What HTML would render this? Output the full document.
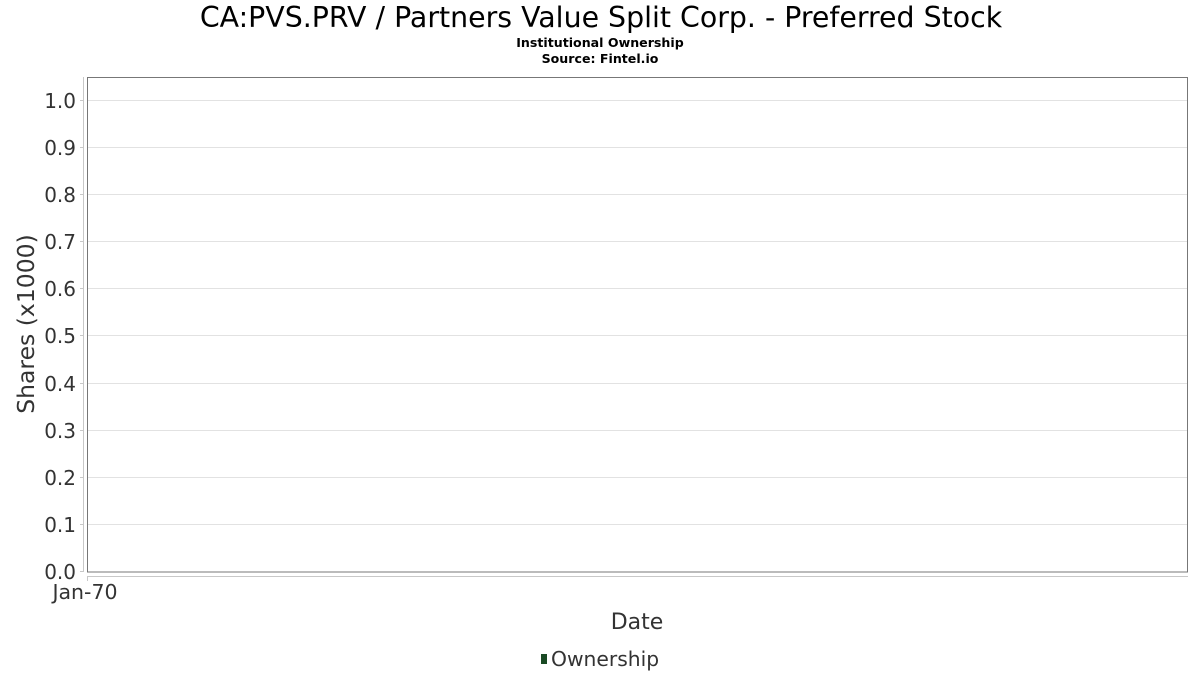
<!DOCTYPE html>
<html><head><meta charset="utf-8"><style>
html,body{margin:0;padding:0;background:#fff;}
svg{display:block;font-family:"DejaVu Sans","Liberation Sans",sans-serif;}
</style></head><body>
<svg width="1200" height="675" viewBox="0 0 1200 675" xmlns="http://www.w3.org/2000/svg">
<rect width="1200" height="675" fill="#fff"/>
<text x="601" y="27" font-size="28.4" text-anchor="middle" fill="#000">CA:PVS.PRV / Partners Value Split Corp. - Preferred Stock</text>
<text x="600" y="47" font-size="12.6" font-weight="bold" text-anchor="middle" fill="#000">Institutional Ownership</text>
<text x="600" y="63" font-size="12.6" font-weight="bold" text-anchor="middle" fill="#000">Source: Fintel.io</text>
<g stroke="#e2e2e2" stroke-width="1">
<line x1="88" x2="1188" y1="100.5" y2="100.5"/>
<line x1="88" x2="1188" y1="147.5" y2="147.5"/>
<line x1="88" x2="1188" y1="194.5" y2="194.5"/>
<line x1="88" x2="1188" y1="241.5" y2="241.5"/>
<line x1="88" x2="1188" y1="288.5" y2="288.5"/>
<line x1="88" x2="1188" y1="335.5" y2="335.5"/>
<line x1="88" x2="1188" y1="383.5" y2="383.5"/>
<line x1="88" x2="1188" y1="430.5" y2="430.5"/>
<line x1="88" x2="1188" y1="477.5" y2="477.5"/>
<line x1="88" x2="1188" y1="524.5" y2="524.5"/>
</g>
<rect x="87.5" y="77.5" width="1100" height="494.5" fill="none" stroke="#777" stroke-width="1"/>
<g stroke="#c8c8c8" stroke-width="1">
<line x1="83.5" x2="83.5" y1="77" y2="572"/>
<line x1="87" x2="1188" y1="576.5" y2="576.5"/>
<line x1="80" x2="84" y1="100.5" y2="100.5"/>
<line x1="80" x2="84" y1="147.5" y2="147.5"/>
<line x1="80" x2="84" y1="194.5" y2="194.5"/>
<line x1="80" x2="84" y1="241.5" y2="241.5"/>
<line x1="80" x2="84" y1="288.5" y2="288.5"/>
<line x1="80" x2="84" y1="335.5" y2="335.5"/>
<line x1="80" x2="84" y1="383.5" y2="383.5"/>
<line x1="80" x2="84" y1="430.5" y2="430.5"/>
<line x1="80" x2="84" y1="477.5" y2="477.5"/>
<line x1="80" x2="84" y1="524.5" y2="524.5"/>
<line x1="80" x2="84" y1="571.5" y2="571.5"/>
<line x1="87.5" x2="87.5" y1="576" y2="581"/>
</g>
<g font-size="20" fill="#333" text-anchor="end">
<text x="76" y="108">1.0</text>
<text x="76" y="155">0.9</text>
<text x="76" y="202">0.8</text>
<text x="76" y="249">0.7</text>
<text x="76" y="296">0.6</text>
<text x="76" y="343">0.5</text>
<text x="76" y="391">0.4</text>
<text x="76" y="438">0.3</text>
<text x="76" y="485">0.2</text>
<text x="76" y="532">0.1</text>
<text x="76" y="579">0.0</text>
</g>
<text x="85" y="599" font-size="20.5" fill="#333" text-anchor="middle">Jan-70</text>
<text x="637" y="629" font-size="22" fill="#333" text-anchor="middle">Date</text>
<text transform="translate(34,324) rotate(-90)" font-size="23.5" fill="#333" text-anchor="middle">Shares (x1000)</text>
<rect x="541" y="654" width="6" height="10" fill="#1a4a24"/>
<text x="551" y="666" font-size="20.3" fill="#333">Ownership</text>
</svg>
</body></html>
